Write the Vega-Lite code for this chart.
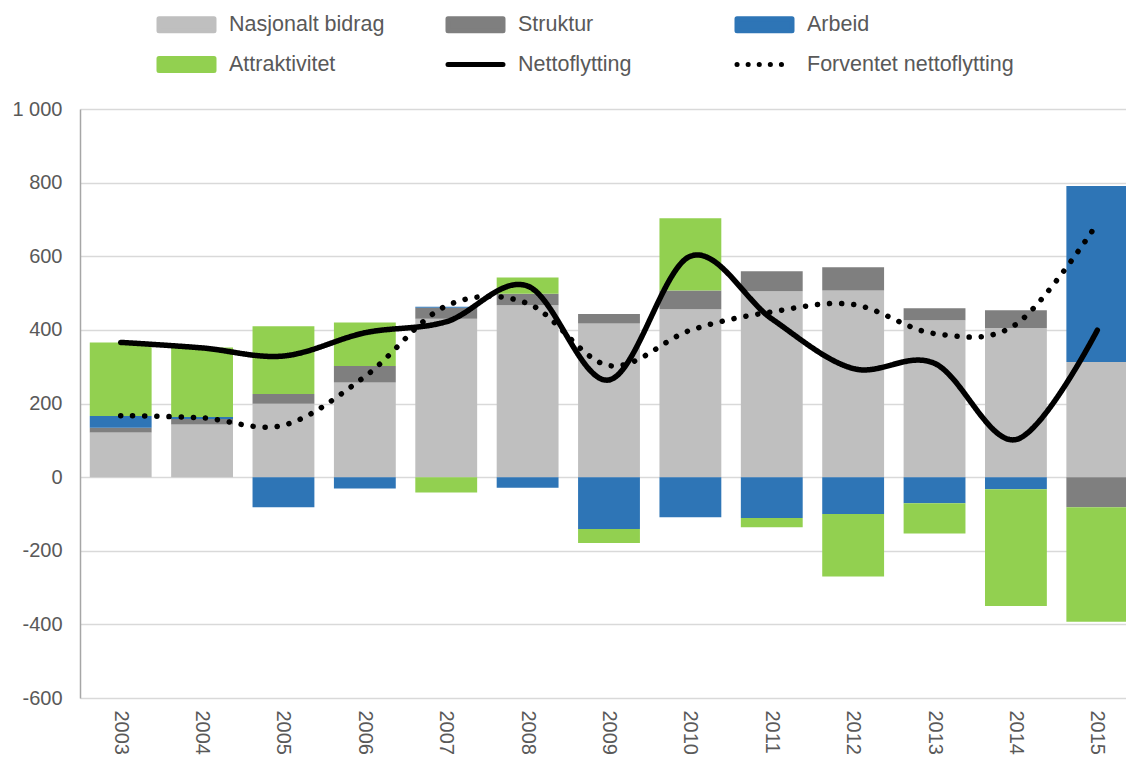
{
  "$schema": "https://vega.github.io/schema/vega-lite/v6.json",
  "width": 1046,
  "height": 589,
  "autosize": "none",
  "padding": {"left": 80, "top": 109, "right": 0, "bottom": 60},
  "background": "white",
  "config": {
    "view": {"stroke": null},
    "font": "Liberation Sans",
    "axis": {"labelFont": "Liberation Sans", "labelColor": "#595959", "labelFontSize": 20}
  },
  "datasets": {
    "bars": [
      {"year": "2003", "series": "Nasjonalt bidrag", "value": 121},
      {"year": "2003", "series": "Struktur", "value": 13},
      {"year": "2003", "series": "Arbeid", "value": 32},
      {"year": "2003", "series": "Attraktivitet", "value": 200},
      {"year": "2004", "series": "Nasjonalt bidrag", "value": 143},
      {"year": "2004", "series": "Struktur", "value": 15},
      {"year": "2004", "series": "Arbeid", "value": 5},
      {"year": "2004", "series": "Attraktivitet", "value": 189},
      {"year": "2005", "series": "Nasjonalt bidrag", "value": 199},
      {"year": "2005", "series": "Struktur", "value": 27},
      {"year": "2005", "series": "Arbeid", "value": -82},
      {"year": "2005", "series": "Attraktivitet", "value": 184},
      {"year": "2006", "series": "Nasjonalt bidrag", "value": 257},
      {"year": "2006", "series": "Struktur", "value": 45},
      {"year": "2006", "series": "Arbeid", "value": -31},
      {"year": "2006", "series": "Attraktivitet", "value": 118},
      {"year": "2007", "series": "Nasjonalt bidrag", "value": 430},
      {"year": "2007", "series": "Struktur", "value": 30},
      {"year": "2007", "series": "Arbeid", "value": 3},
      {"year": "2007", "series": "Attraktivitet", "value": -42},
      {"year": "2008", "series": "Nasjonalt bidrag", "value": 467},
      {"year": "2008", "series": "Struktur", "value": 31},
      {"year": "2008", "series": "Arbeid", "value": -29},
      {"year": "2008", "series": "Attraktivitet", "value": 44},
      {"year": "2009", "series": "Nasjonalt bidrag", "value": 417},
      {"year": "2009", "series": "Struktur", "value": 26},
      {"year": "2009", "series": "Arbeid", "value": -141},
      {"year": "2009", "series": "Attraktivitet", "value": -38},
      {"year": "2010", "series": "Nasjonalt bidrag", "value": 456},
      {"year": "2010", "series": "Struktur", "value": 51},
      {"year": "2010", "series": "Arbeid", "value": -109},
      {"year": "2010", "series": "Attraktivitet", "value": 196},
      {"year": "2011", "series": "Nasjonalt bidrag", "value": 505},
      {"year": "2011", "series": "Struktur", "value": 54},
      {"year": "2011", "series": "Arbeid", "value": -111},
      {"year": "2011", "series": "Attraktivitet", "value": -25},
      {"year": "2012", "series": "Nasjonalt bidrag", "value": 507},
      {"year": "2012", "series": "Struktur", "value": 63},
      {"year": "2012", "series": "Arbeid", "value": -100},
      {"year": "2012", "series": "Attraktivitet", "value": -170},
      {"year": "2013", "series": "Nasjonalt bidrag", "value": 426},
      {"year": "2013", "series": "Struktur", "value": 33},
      {"year": "2013", "series": "Arbeid", "value": -71},
      {"year": "2013", "series": "Attraktivitet", "value": -82},
      {"year": "2014", "series": "Nasjonalt bidrag", "value": 405},
      {"year": "2014", "series": "Struktur", "value": 48},
      {"year": "2014", "series": "Arbeid", "value": -33},
      {"year": "2014", "series": "Attraktivitet", "value": -317},
      {"year": "2015", "series": "Nasjonalt bidrag", "value": 313},
      {"year": "2015", "series": "Struktur", "value": -82},
      {"year": "2015", "series": "Arbeid", "value": 478},
      {"year": "2015", "series": "Attraktivitet", "value": -311}
    ],
    "lines": [
      {"year": "2003", "series": "Nettoflytting", "value": 366},
      {"year": "2004", "series": "Nettoflytting", "value": 351},
      {"year": "2005", "series": "Nettoflytting", "value": 329},
      {"year": "2006", "series": "Nettoflytting", "value": 392},
      {"year": "2007", "series": "Nettoflytting", "value": 422},
      {"year": "2008", "series": "Nettoflytting", "value": 519},
      {"year": "2009", "series": "Nettoflytting", "value": 264},
      {"year": "2010", "series": "Nettoflytting", "value": 600},
      {"year": "2011", "series": "Nettoflytting", "value": 430},
      {"year": "2012", "series": "Nettoflytting", "value": 295},
      {"year": "2013", "series": "Nettoflytting", "value": 309},
      {"year": "2014", "series": "Nettoflytting", "value": 102},
      {"year": "2015", "series": "Nettoflytting", "value": 399},
      {"year": "2003", "series": "Forventet nettoflytting", "value": 167},
      {"year": "2004", "series": "Forventet nettoflytting", "value": 161},
      {"year": "2005", "series": "Forventet nettoflytting", "value": 141},
      {"year": "2006", "series": "Forventet nettoflytting", "value": 273},
      {"year": "2007", "series": "Forventet nettoflytting", "value": 465},
      {"year": "2008", "series": "Forventet nettoflytting", "value": 472},
      {"year": "2009", "series": "Forventet nettoflytting", "value": 303},
      {"year": "2010", "series": "Forventet nettoflytting", "value": 399},
      {"year": "2011", "series": "Forventet nettoflytting", "value": 449},
      {"year": "2012", "series": "Forventet nettoflytting", "value": 469},
      {"year": "2013", "series": "Forventet nettoflytting", "value": 390},
      {"year": "2014", "series": "Forventet nettoflytting", "value": 415},
      {"year": "2015", "series": "Forventet nettoflytting", "value": 689}
    ]
  },
  "encoding": {
    "x": {
      "field": "year",
      "type": "nominal",
      "title": null,
      "scale": {"range": [0, 1058], "paddingInner": 0.24, "paddingOuter": 0.12},
      "axis": {
        "labelAngle": 90,
        "labelAlign": "left",
        "labelBaseline": "middle",
        "labelPadding": 12,
        "ticks": false,
        "domain": false,
        "grid": false
      }
    }
  },
  "layer": [
    {
      "data": {"name": "bars"},
      "transform": [
        {"calculate": "indexof(['Nasjonalt bidrag', 'Struktur', 'Arbeid', 'Attraktivitet'], datum.series)", "as": "stackOrder"}
      ],
      "mark": {"type": "bar"},
      "encoding": {
        "y": {
          "field": "value",
          "type": "quantitative",
          "stack": "zero",
          "title": null,
          "scale": {"domain": [-600, 1000], "nice": false, "zero": false},
          "axis": {
            "values": [-600, -400, -200, 0, 200, 400, 600, 800, 1000],
            "labelExpr": "abs(datum.value) >= 1000 ? replace(format(datum.value, ','), ',', ' ') : toString(datum.value)",
            "ticks": false,
            "labelPadding": 18,
            "domain": true,
            "domainColor": "#a6a6a6",
            "domainWidth": 1.5,
            "grid": true,
            "gridColor": "#d9d9d9",
            "gridWidth": 1.5
          }
        },
        "order": {"field": "stackOrder", "type": "quantitative", "sort": "ascending"},
        "color": {
          "field": "series",
          "type": "nominal",
          "sort": ["Nasjonalt bidrag", "Struktur", "Arbeid", "Attraktivitet", "Nettoflytting", "Forventet nettoflytting"],
          "scale": {
            "domain": ["Nasjonalt bidrag", "Struktur", "Arbeid", "Attraktivitet", "Nettoflytting", "Forventet nettoflytting"],
            "range": ["#bfbfbf", "#7f7f7f", "#2e75b6", "#92d050", "#000000", "#000000"]
          },
          "legend": {
            "orient": "none",
            "legendX": 94,
            "legendY": -97,
            "direction": "horizontal",
            "columns": 3,
            "gridAlign": "all",
            "columnPadding": 2,
            "rowPadding": 7,
            "padding": 0,
            "title": null,
            "symbolSize": 400,
            "labelOffset": 30,
            "labelFont": "Liberation Sans",
            "labelFontSize": 21.5,
            "labelColor": "#595959",
            "labelLimit": 400,
            "encode": {
              "symbols": {
                "update": {
                  "shape": {"signal": "(datum.value == 'Nettoflytting' || datum.value == 'Forventet nettoflytting') ? 'M-2.75,0H2.75' : 'M-2.75,-0.6H2.75V0.6H-2.75Z'"},
                  "fill": {"signal": "(datum.value == 'Nettoflytting' || datum.value == 'Forventet nettoflytting') ? 'transparent' : scale('color', datum.value)"},
                  "stroke": {"signal": "(datum.value == 'Nettoflytting' || datum.value == 'Forventet nettoflytting') ? '#000000' : 'transparent'"},
                  "strokeWidth": {"value": 5},
                  "strokeCap": {"value": "round"},
                  "strokeDash": {"signal": "datum.value == 'Forventet nettoflytting' ? [0.1, 11] : [1, 0]"},
                  "opacity": {"value": 1}
                }
              }
            }
          }
        }
      }
    },
    {
      "mark": {"type": "rule", "color": "#8c8c8c", "strokeWidth": 1.5},
      "encoding": {"y": {"datum": 0, "type": "quantitative"}}
    },
    {
      "data": {"name": "lines"},
      "mark": {"type": "line", "interpolate": "cardinal", "strokeWidth": 5.5, "strokeCap": "round"},
      "encoding": {
        "y": {"field": "value", "type": "quantitative"},
        "color": {"field": "series", "type": "nominal"},
        "strokeDash": {
          "field": "series",
          "type": "nominal",
          "scale": {"domain": ["Nettoflytting", "Forventet nettoflytting"], "range": [[1, 0], [0.1, 12]]},
          "legend": null
        }
      }
    }
  ]
}
